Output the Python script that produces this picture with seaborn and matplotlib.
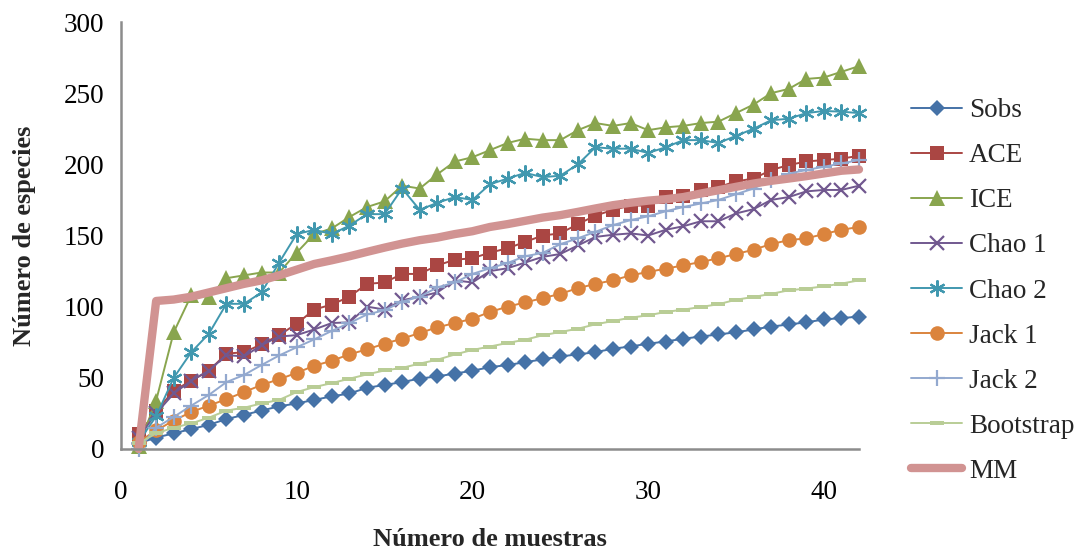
import numpy as np
import pandas as pd
import matplotlib
matplotlib.use("Agg")
import matplotlib.pyplot as plt
import seaborn as sns

muestras = list(range(1, 43))

sobs = [4, 8, 11, 14, 17, 21, 24, 27, 30, 32, 34.5, 37, 39, 43, 45, 47, 49.5, 51, 53, 55,
        57.5, 59, 61, 63, 65, 66.5, 68, 70.5, 72, 74, 75.5, 77.5, 79, 80.5, 82, 84, 86,
        87.5, 89, 91, 92, 93]
ace = [10.5, 26.5, 41, 48, 55, 67, 68, 73.5, 80, 88, 98, 101.5, 107, 116, 117, 123, 123,
       129, 133, 134, 138, 141, 145.5, 150, 151.5, 158, 164, 168, 171, 171, 177, 178, 182,
       184, 188, 190, 196, 199.5, 202, 203, 204, 206]
ice = [2, 34, 82, 108, 107, 120, 122, 124, 124, 138, 151, 155, 163, 170, 174, 185, 183,
       193, 202, 205, 210, 215, 218, 217, 217, 224, 229, 227, 229, 224, 226, 227, 229, 230,
       236, 242, 250, 253, 260, 261, 265, 269]
chao1 = [8, 25, 39, 48, 55, 66, 65, 73, 79, 80, 84, 88.5, 89, 100, 98, 104.5, 107, 110,
         118.5, 117, 125, 127, 131, 135, 137, 143, 149, 150.5, 151.5, 150, 154, 156.5, 160,
         160, 165.5, 168.5, 175, 177, 181, 182, 182, 185]
chao2 = [5, 23, 50, 68, 81, 102, 102, 110, 131, 151, 154, 151, 157, 165, 165, 183, 168,
         173, 177, 175, 186, 190, 194, 191, 192, 200, 212, 211, 211, 208, 212, 217, 217,
         215, 220, 225, 231, 232, 236, 237.5, 237, 236]
jack1 = [5, 13, 20, 26, 30.5, 35, 40, 45, 49, 53.5, 58.5, 62, 66.5, 70, 74, 77.5, 81.5,
         85.5, 88.5, 91.5, 96.3, 100, 103, 106, 109, 113, 116, 118.5, 122, 124.4, 126.7,
         129, 131.4, 134, 137, 140, 144, 146.7, 148, 151, 154, 156]
jack2 = [0, 15, 22.5, 30.5, 38, 47, 52, 59, 65.7, 71.5, 77, 83, 88.5, 94.5, 97.5, 103.5,
         107, 113.5, 117, 123, 127, 130.7, 135.4, 137.8, 143.9, 148, 152.6, 157.3, 160.8,
         163.5, 167, 170, 172.5, 175, 179, 183, 189, 193.5, 196, 198.3, 200.6, 203]
bootstrap = [4, 11, 15, 18, 22, 27, 29, 32, 34.5, 40, 43.5, 46.3, 49.4, 52.4, 55.2, 57, 60,
             62.7, 66.4, 69.6, 72, 74.5, 76.8, 79.9, 82.2, 84.5, 87.6, 89.9, 92.3, 93.9,
             96.3, 97.9, 99.8, 101.7, 104.9, 106.8, 109, 111.5, 112.7, 114.3, 116.2, 118.5]
mm = [0, 104, 105, 107, 110, 113, 116, 118.5, 122, 126, 130, 132.6, 135.4, 138.5, 141.5,
      144.3, 146.7, 148.5, 151, 153, 156, 158, 160.3, 162.6, 164.3, 166.6, 169, 171.3, 173,
      174.5, 175.5, 177, 179.5, 181.8, 184.2, 186.5, 188.4, 190, 191.7, 193.6, 195.5, 196.4]

names = ["Sobs", "ACE", "ICE", "Chao 1", "Chao 2", "Jack 1", "Jack 2", "Bootstrap", "MM"]
series = [sobs, ace, ice, chao1, chao2, jack1, jack2, bootstrap, mm]
colors = ["#4572A7", "#AA4643", "#89A54E", "#71588F", "#4198AF", "#DB843D", "#93A9CF",
          "#B9CD96", "#D19392"]

dash = [(-1, -0.32), (1, -0.32), (1, 0.32), (-1, 0.32), (-1, -0.32)]
styles = [
    dict(marker="D", ms=8.5, lw=1.4),
    dict(marker="s", ms=10, lw=1.4),
    dict(marker="^", ms=11.5, lw=1.4),
    dict(marker="x", ms=9.5, lw=1.4, mew=1.6),
    dict(marker=(6, 2, 0), ms=11.5, lw=1.4, mew=1.6),
    dict(marker="o", ms=10.5, lw=1.4),
    dict(marker="+", ms=11.5, lw=1.4, mew=1.6),
    dict(marker=dash, ms=10.5, lw=1.4),
    dict(marker=None, lw=6),
]

sns.set_style("white")
plt.rcParams["font.family"] = ["Liberation Serif", "DejaVu Serif"]

fig = plt.figure(figsize=(10.79, 5.52), dpi=100)
ax = fig.add_axes([121 / 1079, 1 - 449 / 552, (859 - 121) / 1079, (449 - 22) / 552])

for name, vals, col, st in zip(names, series, colors, styles):
    df = pd.DataFrame({"x": muestras, "y": vals})
    kw = dict(st)
    if kw.get("marker") is not None:
        kw["markerfacecolor"] = col
        kw["markeredgecolor"] = col
        if "mew" not in kw:
            kw["mew"] = 0
    else:
        kw.pop("marker")
    sns.lineplot(data=df, x="x", y="y", ax=ax, color=col, label=name,
                 clip_on=False, solid_capstyle="round", **kw)

ax.set_xlim(0, 42)
ax.set_ylim(0, 300)
ax.set_xticks([0, 10, 20, 30, 40])
ax.set_yticks([0, 50, 100, 150, 200, 250, 300])
for s in ["top", "right"]:
    ax.spines[s].set_visible(False)
for s in ["left", "bottom"]:
    ax.spines[s].set_color("#8c8c8c")
    ax.spines[s].set_linewidth(1.8)
ax.tick_params(axis="both", direction="in", length=6, width=1.8, color="#8c8c8c",
               labelsize=19.5, labelcolor="black")
ax.tick_params(axis="x", pad=22)
ax.tick_params(axis="y", pad=12)

ax.set_xlabel("Número de muestras", fontsize=19, fontweight="bold")
ax.set_ylabel("Número de especies", fontsize=19, fontweight="bold")
ax.xaxis.label.set_va("center")
ax.yaxis.label.set_va("center")
ax.xaxis.set_label_coords(0.5, (449 - 540) / 427)
ax.yaxis.set_label_coords((25 - 121) / 738, 0.5)

handles, labels = ax.get_legend_handles_labels()
if ax.legend_:
    ax.legend_.remove()
fig.legend(handles, labels, loc="center left", bbox_to_anchor=(911 / 1079, 1 - 291 / 552),
           frameon=False, fontsize=19.5, handlelength=1.9, handletextpad=0.25,
           labelspacing=0.74, borderaxespad=0, borderpad=0)

fig.savefig("out.png", dpi=100)
